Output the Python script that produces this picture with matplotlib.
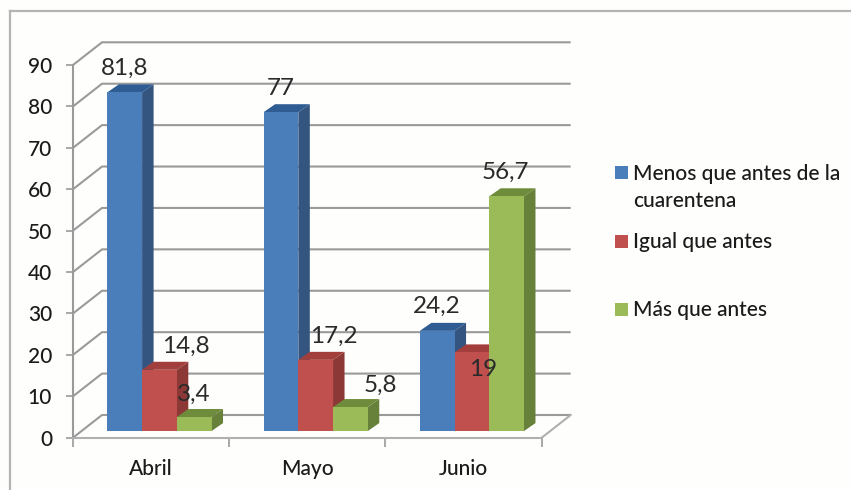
import matplotlib
matplotlib.use('Agg')
import matplotlib.pyplot as plt
from matplotlib.lines import Line2D
from matplotlib.patches import Polygon, Rectangle

plt.rcParams['font.family'] = ['Lato', 'DejaVu Sans']

W, H = 851, 490

meses = ['Abril', 'Mayo', 'Junio']
series = ['Menos que antes de la\ncuarentena', 'Igual que antes', 'Más que antes']
menos = [81.8, 77, 24.2]
igual = [14.8, 17.2, 19]
mas = [3.4, 5.8, 56.7]
y_ticks = list(range(0, 100, 10))

colores = ['#4A7EBB', '#C0504D', '#9BBB59']
lados = ['#34557F', '#8C3836', '#67803A']
techos = ['#2F5C92', '#A23F3C', '#6F8C3C']

# desplazamientos de las etiquetas (px) respecto al centro y techo de la barra
shift = {(0, 0): (0, 17), (1, 0): (0, 17), (2, 0): (0, 18),
         (0, 1): (26, 17), (1, 1): (18, 17), (2, 1): (11, -24),
         (0, 2): (0, 16), (1, 2): (30, 15), (2, 2): (-1, 17)}

fig = plt.figure(figsize=(W / 100, H / 100), dpi=100, facecolor='#FEFEFD')
ax = fig.add_axes([73 / W, 1 - 437.7 / H, 468.7 / W, 372.7 / H])
ax.set_xlim(0, 3)
ax.set_ylim(0, 90)
ax.patch.set_visible(False)

# marco de la imagen
marco = '#B4B4B4'
fig.add_artist(Line2D([10 / W, 1], [1 - 11 / H] * 2, color=marco, lw=1.6))
fig.add_artist(Line2D([10 / W, 10 / W], [0, 1 - 11 / H], color=marco, lw=1.6))

# paredes y rejilla
gris = '#9A9A9A'
prof_x = 29 / 156.2
prof_y = 22.7 / 4.141
for v in y_ticks:
    ax.plot([0, prof_x, 3 + prof_x], [v, v + prof_y, v + prof_y], color=gris, lw=1.5,
            clip_on=False, zorder=1, solid_capstyle='butt')
ax.plot([3, 3 + prof_x], [0, prof_y], color='#B0B0B0', lw=1.5, clip_on=False, zorder=1)

# barras
ancho = 0.2222
inicio = 0.22
base = 1.6
dx = 11.5 / 156.2
dy = 8 / 4.141
valores = [menos, igual, mas]
for i in range(len(meses)):
    for j, serie in enumerate(valores):
        v = serie[i]
        x0 = i + inicio + j * ancho
        x1 = x0 + ancho
        y1 = base + v
        ax.add_patch(Polygon([(x1, base), (x1 + dx, base + dy), (x1 + dx, y1 + dy), (x1, y1)],
                             fc=lados[j], ec='none', zorder=3 + i + j * 0.1))
        ax.add_patch(Polygon([(x0, y1), (x0 + dx, y1 + dy), (x1 + dx, y1 + dy), (x1, y1)],
                             fc=techos[j], ec='none', zorder=3 + i + j * 0.1))
        ax.add_patch(Rectangle((x0, base), ancho, v, fc=colores[j], ec='none',
                               zorder=3.05 + i + j * 0.1))

# etiquetas de datos
for i in range(len(meses)):
    for j, serie in enumerate(valores):
        texto = f'{serie[i]:g}'.replace('.', ',')
        x = i + inicio + (j + 0.5) * ancho
        ax.annotate(texto, (x, base + serie[i]), xytext=shift[(i, j)],
                    textcoords='offset pixels', ha='center', va='baseline',
                    fontsize=17.5, color='#2A2A2A', zorder=20, annotation_clip=False)

# ejes
for s in ['top', 'right']:
    ax.spines[s].set_visible(False)
ax.spines['left'].set_color(gris)
ax.spines['left'].set_linewidth(1.5)
ax.spines['bottom'].set_color('#B0B0B0')
ax.spines['bottom'].set_linewidth(1.5)
ax.set_yticks(y_ticks)
ax.set_xticks([0, 1, 2, 3])
ax.set_xticklabels([])
ax.set_xticks([0.5, 1.5, 2.5], meses, minor=True)
ax.tick_params(axis='y', length=5, width=1.2, color=gris, pad=10, labelsize=15, labelcolor='#1A1A1A')
ax.tick_params(axis='x', which='major', length=6.5, width=1.2, color=gris)
ax.tick_params(axis='x', which='minor', length=0, pad=15, labelsize=15, labelcolor='#1A1A1A')
for t in ax.get_yticklabels() + ax.get_xticklabels(minor=True):
    t.set_fontweight('medium')

# leyenda
marcas_y = [166, 235, 303]
textos_y = [180, 248, 315.7]
for c, nombre, my, ty in zip(colores, series, marcas_y, textos_y):
    fig.add_artist(Rectangle((615 / W, 1 - (my + 13) / H), 12.7 / W, 13 / H, fc=c, ec='none',
                             transform=fig.transFigure))
    lineas = nombre.split('\n')
    for k, linea in enumerate(lineas):
        fig.text(632.7 / W, 1 - (ty + k * 26.7) / H, linea, fontsize=15, va='baseline',
                 ha='left', color='#1A1A1A', fontweight='medium')

fig.savefig('out.png', dpi=100, facecolor=fig.get_facecolor())
